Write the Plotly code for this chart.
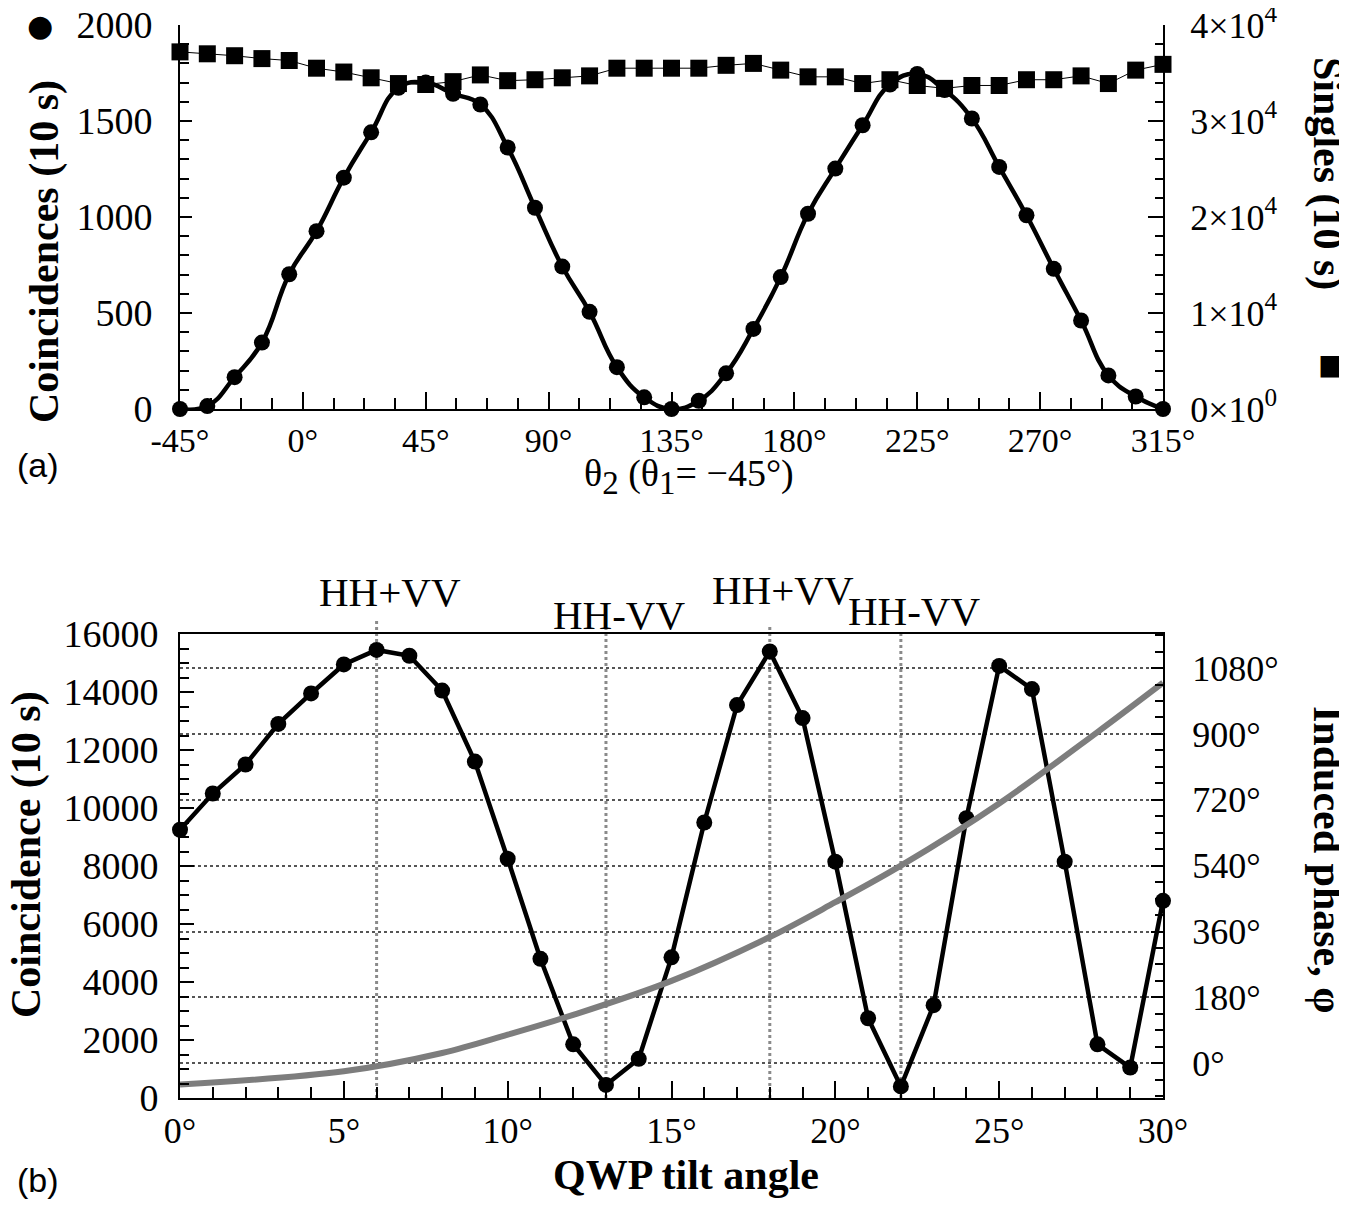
import plotly.graph_objects as go

# ---- panel (a): polarizer scan ----
theta2 = list(range(-45, 316, 10))
coinc_a = [0, 15, 166, 346, 702, 926, 1205, 1441, 1673, 1700,
           1642, 1586, 1362, 1048, 742, 506, 218, 61, 0, 43,
           186, 417, 687, 1017, 1252, 1478, 1690, 1745, 1661, 1513,
           1261, 1009, 730, 461, 175, 65, 0]
singles_a = [37200, 37000, 36800, 36500, 36300, 35500, 35100, 34500, 33900, 33800,
             34100, 34800, 34200, 34300, 34500, 34700, 35500, 35500, 35500, 35500,
             35800, 36000, 35300, 34600, 34600, 33900, 34300, 33700, 33400, 33700,
             33700, 34300, 34300, 34700, 33900, 35300, 35900]
xticks_a = [-45, 0, 45, 90, 135, 180, 225, 270, 315]
xtext_a = ["-45°", "0°", "45°", "90°", "135°", "180°", "225°", "270°", "315°"]
y2ticks_a = [0, 10000, 20000, 30000, 40000]
y2text_a = ["0×10<sup>0</sup>", "1×10<sup>4</sup>", "2×10<sup>4</sup>",
            "3×10<sup>4</sup>", "4×10<sup>4</sup>"]

# ---- panel (b): QWP tilt scan ----
tilt = list(range(0, 31))
coinc_b = [9250, 10500, 11500, 12900, 13950, 14950, 15450, 15250, 14050, 11600,
           8250, 4800, 1850, 450, 1350, 4850, 9500, 13550, 15400, 13100,
           8150, 2750, 400, 3200, 9650, 14900, 14100, 8150, 1850, 1050, 6800]
phase_x = [0, 5, 8, 10, 12, 15, 18, 20, 22, 25, 28, 30]
phase_deg = [-58, -22, 28, 78, 132, 225, 345, 440, 540, 710, 905, 1040]
states_x = [6, 13, 18, 22]
states_label = ["HH+VV", "HH-VV", "HH+VV", "HH-VV"]
xticks_b = [0, 5, 10, 15, 20, 25, 30]
xtext_b = ["0°", "5°", "10°", "15°", "20°", "25°", "30°"]
y4ticks_b = [0, 180, 360, 540, 720, 900, 1080]
y4text_b = ["0°", "180°", "360°", "540°", "720°", "900°", "1080°"]

# page has an 8px body margin, so the figure is 8px smaller than the window
W, H = 1339, 1206
L, R, T, B = 172, 184, 17, 116
PH = H - T - B
PW = W - L - R


def py(p):
    # reference pixel row -> paper y
    return (1098 - p) / PH


def px(p):
    # reference pixel column -> paper x
    return (p - 180) / PW


SERIF = "Liberation Serif"
tickfont = dict(family=SERIF, size=38, color="black")

fig = go.Figure()

# (a)
fig.add_trace(go.Scatter(x=theta2, y=singles_a, xaxis="x", yaxis="y2", mode="lines+markers",
                         line=dict(color="black", width=1),
                         marker=dict(symbol="square", size=17, color="black"),
                         cliponaxis=False, showlegend=False))
fig.add_trace(go.Scatter(x=theta2, y=coinc_a, xaxis="x", yaxis="y", mode="lines",
                         line=dict(color="black", width=4.5, shape="spline", smoothing=1.3),
                         showlegend=False))
fig.add_trace(go.Scatter(x=theta2, y=coinc_a, xaxis="x", yaxis="y", mode="markers",
                         marker=dict(symbol="circle", size=16, color="black"),
                         cliponaxis=False, showlegend=False))

# (b)
fig.add_trace(go.Scatter(x=phase_x, y=phase_deg, xaxis="x2", yaxis="y4", mode="lines",
                         line=dict(color="#7d7d7d", width=6, shape="spline", smoothing=1.0),
                         showlegend=False))
fig.add_trace(go.Scatter(x=tilt, y=coinc_b, xaxis="x2", yaxis="y3", mode="lines+markers",
                         line=dict(color="black", width=4.5),
                         marker=dict(symbol="circle", size=16, color="black"),
                         cliponaxis=False, showlegend=False))

dom_a = [py(409), 1.0]
dom_b = [0.0, py(634)]

axis_common = dict(showline=True, linecolor="black", linewidth=2, ticks="inside",
                   tickcolor="black", tickfont=tickfont, zeroline=False, showgrid=False,
                   automargin=False, ticklabeloverflow="allow")

fig.update_layout(
    width=W, height=H,
    margin=dict(l=L, r=R, t=T, b=B, autoexpand=False),
    paper_bgcolor="white", plot_bgcolor="white",
    xaxis=dict(axis_common, domain=[0, 1], anchor="y", range=[-45, 315],
               tickvals=xticks_a, ticktext=xtext_a, ticklen=17, tickwidth=2,
               tickfont=dict(family=SERIF, size=34, color="black"),
               minor=dict(dtick=11.25, tick0=-45, ticklen=11, ticks="inside", tickcolor="black")),
    yaxis=dict(axis_common, domain=dom_a, anchor="x", range=[0, 2000],
               dtick=500, ticklen=12, tickwidth=2, ticklabelstandoff=18,
               minor=dict(dtick=100, ticklen=9, ticks="inside", tickcolor="black")),
    yaxis2=dict(axis_common, overlaying="y", side="right", anchor="x", range=[0, 40000],
                tickvals=y2ticks_a, ticktext=y2text_a, ticklen=15, tickwidth=2,
                ticklabelstandoff=18, tickfont=dict(family=SERIF, size=36, color="black"),
                minor=dict(dtick=2000, ticklen=8, ticks="inside", tickcolor="black")),
    xaxis2=dict(axis_common, domain=[0, 1], anchor="y3", range=[0, 30], mirror=True,
                tickvals=xticks_b, ticktext=xtext_b, ticklen=17, tickwidth=2,
                tickfont=dict(family=SERIF, size=36, color="black"),
                minor=dict(dtick=1, ticklen=11, ticks="inside", tickcolor="black")),
    yaxis3=dict(axis_common, domain=dom_b, anchor="x2", range=[0, 16000],
                dtick=2000, tickformat="d", ticklen=14, tickwidth=2, ticklabelstandoff=12,
                minor=dict(dtick=500, ticklen=9, ticks="inside", tickcolor="black")),
    yaxis4=dict(axis_common, overlaying="y3", side="right", anchor="x2", range=[-95, 1173],
                tickvals=y4ticks_b, ticktext=y4text_b, ticklen=12, tickwidth=2,
                ticklabelstandoff=20, showgrid=True, gridcolor="#555555", gridwidth=1.5,
                griddash="dot", tickfont=dict(family=SERIF, size=36, color="black"),
                minor=dict(dtick=45, ticklen=8, ticks="inside", tickcolor="black")),
)

# state marker lines in (b)
for sx, top in zip(states_x, [619, 628, 627, 633]):
    fig.add_shape(type="line", xref="x2", yref="paper", x0=sx, x1=sx,
                  y0=py(1098), y1=py(top), layer="below",
                  line=dict(color="#8a8a8a", width=3, dash="dot"))
for sx, lab, yp in zip(states_x, states_label, [592, 615, 590, 611]):
    fig.add_annotation(x=sx, xref="x2", y=py(yp), yref="paper", text=lab, showarrow=False,
                       xshift=13, font=dict(family=SERIF, size=41, color="black"))

sub = "<sub><span style='font-size:33px'>%s</span></sub>"
ann = [
    # panel (a)
    dict(text="<b>Coincidences (10 s)</b>", x=px(44), y=py(252), textangle=-90, size=42, fam=SERIF),
    dict(text="●", x=px(40), y=py(26), textangle=0, size=30, fam="DejaVu Sans"),
    dict(text="<b>Singles (10 s)</b>", x=px(1328), y=py(173), textangle=90, size=42, fam=SERIF),
    dict(text="■", x=px(1331), y=py(364), textangle=0, size=28, fam="DejaVu Sans"),
    dict(text="(a)", x=px(38), y=py(465), textangle=0, size=34, fam="Liberation Sans"),
    dict(text="θ" + sub % "2" + " (θ" + sub % "1" + "= −45°)", x=px(689), y=py(477),
         textangle=0, size=38, fam=SERIF),
    # panel (b)
    dict(text="<b>Coincidence (10 s)</b>", x=px(26), y=py(855), textangle=-90, size=42, fam=SERIF),
    dict(text="<b>Induced phase, φ</b>", x=px(1328), y=py(859), textangle=90, size=42, fam=SERIF),
    dict(text="<b>QWP tilt angle</b>", x=px(686), y=py(1175), textangle=0, size=42, fam=SERIF),
    dict(text="(b)", x=px(38), y=py(1180), textangle=0, size=34, fam="Liberation Sans"),
]
for a in ann:
    fig.add_annotation(text=a["text"], x=a["x"], y=a["y"], xref="paper", yref="paper",
                       showarrow=False, textangle=a["textangle"],
                       xanchor="center", yanchor="middle",
                       font=dict(family=a["fam"], size=a["size"], color="black"))

fig.write_html("out.html")
